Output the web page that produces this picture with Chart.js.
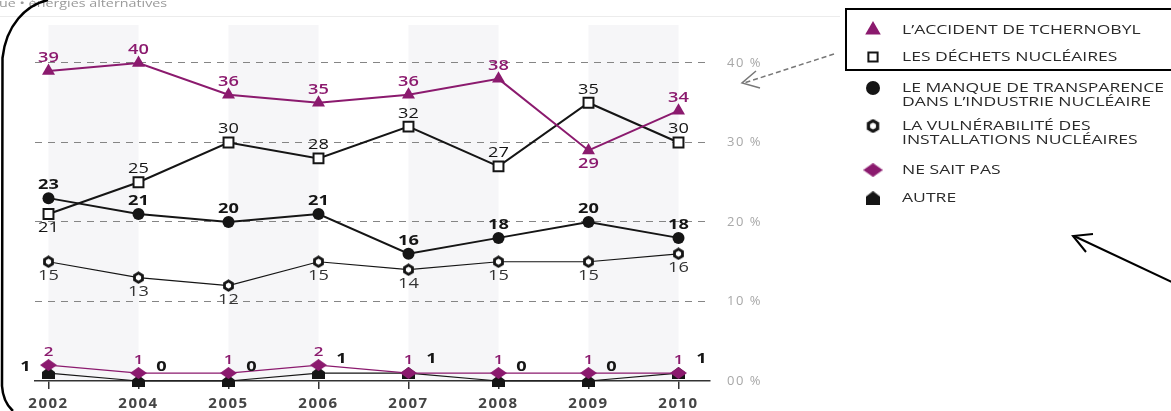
<!DOCTYPE html>
<html>
<head>
<meta charset="utf-8">
<script src="https://cdn.jsdelivr.net/npm/chart.js@4.4.0/dist/chart.umd.min.js"></script>
<style>
  html, body { margin: 0; padding: 0; background: #fff; }
  #wrap { position: relative; width: 1171px; height: 411px; overflow: hidden; }
</style>
</head>
<body>
<div id="wrap"><canvas id="chart" width="1171" height="411"></canvas></div>
<script>
const years = ['2002', '2004', '2005', '2006', '2007', '2008', '2009', '2010']
const tchernobyl = [39, 40, 36, 35, 36, 38, 29, 34]
const dechets = [21, 25, 30, 28, 32, 27, 35, 30]
const transparence = [23, 21, 20, 21, 16, 18, 20, 18]
const vulnerabilite = [15, 13, 12, 15, 14, 15, 15, 16]
const neSaitPas = [2, 1, 1, 2, 1, 1, 1, 1]
const autre = [1, 0, 0, 1, 1, 0, 0, 1]
const yTicks = [0, 10, 20, 30, 40]

const PURPLE = '#8b1a6e'
const INK = '#151515'
const FONT = '"Open Sans", "DejaVu Sans", sans-serif'
const STRETCH = 1.3   // the scan is wider than tall, text follows that

function shapeCanvas(w, h, draw) {
  const c = document.createElement('canvas')
  c.width = w
  c.height = h
  draw(c.getContext('2d'))
  return c
}

function wideText(ctx, text, x, y) {
  ctx.save()
  ctx.translate(x, y)
  ctx.scale(STRETCH, 1)
  ctx.fillText(text, 0, 0)
  ctx.restore()
}

// little marker images for the shapes Chart.js has no built-in style for
const houseMarker = shapeCanvas(13, 12, g => {
  g.fillStyle = INK
  g.beginPath()
  g.moveTo(6.5, 0); g.lineTo(13, 5); g.lineTo(13, 12); g.lineTo(0, 12); g.lineTo(0, 5)
  g.closePath()
  g.fill()
})
const hexMarker = shapeCanvas(13, 13, g => {
  g.strokeStyle = INK
  g.fillStyle = '#fff'
  g.lineWidth = 2.8
  g.beginPath()
  for (let k = 0; k < 6; k++) {
    const a = Math.PI / 6 + k * Math.PI / 3
    g.lineTo(6.5 + 4.6 * Math.cos(a), 6.5 + 4.6 * Math.sin(a))
  }
  g.closePath()
  g.fill()
  g.stroke()
})
const diamondMarker = shapeCanvas(17, 12, g => {
  g.fillStyle = PURPLE
  g.beginPath()
  g.moveTo(8.5, 0); g.lineTo(17, 6); g.lineTo(8.5, 12); g.lineTo(0, 6)
  g.closePath()
  g.fill()
})

const pts = arr => arr.map((v, i) => ({ x: i, y: v }))

// where each value label sits relative to its point
const place = {
  above: { dx: 0, dy: -13 },
  below: { dx: 0, dy: 14 },
  right: { dx: 23, dy: -14 },
  left: { dx: -23, dy: -6 }
}

const datasets = [
  {
    label: 'L’ACCIDENT DE TCHERNOBYL',
    data: pts(tchernobyl),
    borderColor: PURPLE, backgroundColor: PURPLE, borderWidth: 2,
    pointStyle: 'triangle', pointRadius: 7.5, pointBorderWidth: 0,
    valueLabels: { color: PURPLE, weight: '600', size: 14, where: ['above', 'above', 'above', 'above', 'above', 'above', 'below', 'above'] }
  },
  {
    label: 'LES DÉCHETS NUCLÉAIRES',
    data: pts(dechets),
    borderColor: INK, backgroundColor: '#fff', borderWidth: 2,
    pointStyle: 'rect', pointRadius: 7, pointBorderWidth: 2,
    valueLabels: { color: INK, weight: 'normal', size: 14, where: ['below', 'above', 'above', 'above', 'above', 'above', 'above', 'above'] }
  },
  {
    label: 'LE MANQUE DE TRANSPARENCE|DANS L’INDUSTRIE NUCLÉAIRE',
    data: pts(transparence),
    borderColor: INK, backgroundColor: INK, borderWidth: 2,
    pointStyle: 'circle', pointRadius: 6, pointBorderWidth: 0,
    valueLabels: { color: INK, weight: 'bold', size: 14, where: 'above' }
  },
  {
    label: 'LA VULNÉRABILITÉ DES|INSTALLATIONS NUCLÉAIRES',
    data: pts(vulnerabilite),
    borderColor: INK, backgroundColor: '#fff', borderWidth: 1.2,
    pointStyle: hexMarker, pointRadius: 6,
    valueLabels: { color: '#333', weight: 'normal', size: 14, where: 'below' }
  },
  {
    label: 'NE SAIT PAS',
    data: pts(neSaitPas),
    borderColor: PURPLE, backgroundColor: PURPLE, borderWidth: 1.2,
    pointStyle: diamondMarker, pointRadius: 7,
    valueLabels: { color: PURPLE, weight: '600', size: 13, where: 'above' }
  },
  {
    label: 'AUTRE',
    data: pts(autre),
    borderColor: INK, backgroundColor: INK, borderWidth: 1.2,
    pointStyle: houseMarker, pointRadius: 6,
    valueLabels: { color: INK, weight: 'bold', size: 14, where: ['left', 'right', 'right', 'right', 'right', 'right', 'right', 'right'] }
  }
]
datasets.forEach(d => { d.clip = false; d.tension = 0; d.fill = false })

const backdrop = {
  id: 'backdrop',
  beforeDraw(chart) {
    const { ctx, chartArea, scales } = chart
    ctx.save()
    ctx.fillStyle = '#fff'
    ctx.fillRect(0, 0, chart.width, chart.height)

    // header fragment of the scanned page
    ctx.fillStyle = '#9a9a9a'
    ctx.font = `11px ${FONT}`
    ctx.textBaseline = 'alphabetic'
    wideText(ctx, 'ue • énergies alternatives', -1, 7)
    ctx.strokeStyle = '#ececec'
    ctx.lineWidth = 1
    ctx.beginPath()
    ctx.moveTo(0, 16.5); ctx.lineTo(840, 16.5)
    ctx.stroke()

    // shaded year bands
    ctx.fillStyle = '#f6f6f8'
    for (let i = 0; i < years.length - 1; i += 2) {
      const x1 = scales.x.getPixelForValue(i)
      const x2 = scales.x.getPixelForValue(i + 1)
      ctx.fillRect(x1, 25, x2 - x1, chartArea.bottom - 25)
    }
    ctx.restore()
    // axis tick labels are drawn next; widen them a little like the scan
    ctx.letterSpacing = '1.5px'
  },
  beforeDatasetsDraw(chart) {
    chart.ctx.letterSpacing = '0px'
  }
}

const valueLabels = {
  id: 'valueLabels',
  afterDatasetsDraw(chart) {
    const ctx = chart.ctx
    ctx.save()
    ctx.textAlign = 'center'
    ctx.textBaseline = 'middle'
    chart.data.datasets.forEach((ds, di) => {
      const cfg = ds.valueLabels
      const meta = chart.getDatasetMeta(di)
      ctx.fillStyle = cfg.color
      ctx.font = `${cfg.weight} ${cfg.size}px ${FONT}`
      meta.data.forEach((pt, i) => {
        const where = Array.isArray(cfg.where) ? cfg.where[i] : cfg.where
        const off = place[where]
        wideText(ctx, String(ds.data[i].y), pt.x + off.dx, pt.y + off.dy)
      })
    })
    ctx.restore()
  }
}

function arrowHead(ctx, tip, a, b) {
  ctx.beginPath()
  ctx.moveTo(a[0], a[1]); ctx.lineTo(tip[0], tip[1]); ctx.lineTo(b[0], b[1])
  ctx.stroke()
}

const sideLegend = {
  id: 'sideLegend',
  afterDraw(chart) {
    const ctx = chart.ctx
    const rows = [30, 57, 88, 126, 170, 198]
    const mx = 873
    const tx = 902
    ctx.save()
    ctx.font = `13.5px ${FONT}`
    ctx.textBaseline = 'middle'
    ctx.textAlign = 'left'
    chart.data.datasets.forEach((ds, i) => {
      const y = rows[i]
      const style = ds.pointStyle
      if (style instanceof HTMLCanvasElement) {
        const w = style.width * 1.15, h = style.height * 1.15
        ctx.drawImage(style, mx - w / 2, y - h / 2, w, h)
      } else {
        ctx.fillStyle = ds.backgroundColor
        ctx.strokeStyle = ds.borderColor
        ctx.lineWidth = ds.pointBorderWidth
        const r = style === 'rect' ? 6.5 : style === 'circle' ? 7 : 9
        Chart.helpers.drawPoint(ctx, { pointStyle: style, radius: r, borderWidth: ds.pointBorderWidth, rotation: 0 }, mx, y)
      }
      ctx.fillStyle = '#2a2a2a'
      ds.label.split('|').forEach((line, k) => wideText(ctx, line, tx, y + k * 14))
    })

    // box round the first two entries
    ctx.strokeStyle = '#000'
    ctx.lineWidth = 2
    ctx.strokeRect(846, 9, 340, 61)

    // dashed pointer towards the 40 % label
    ctx.strokeStyle = '#777'
    ctx.lineWidth = 1.5
    ctx.setLineDash([5, 3])
    ctx.beginPath()
    ctx.moveTo(834, 54); ctx.lineTo(744, 83)
    ctx.stroke()
    ctx.setLineDash([])
    arrowHead(ctx, [742, 83], [756, 71], [760, 88])

    // solid pointer on the right
    ctx.strokeStyle = '#000'
    ctx.lineWidth = 2
    ctx.beginPath()
    ctx.moveTo(1172, 282); ctx.lineTo(1074, 236)
    ctx.stroke()
    arrowHead(ctx, [1073, 236], [1093, 234], [1086, 252])

    // hand-drawn outline on the left
    ctx.lineWidth = 2.5
    ctx.beginPath()
    ctx.moveTo(48, 0)
    ctx.bezierCurveTo(26, 5, 6, 25, 2.5, 58)
    ctx.lineTo(2, 386)
    ctx.quadraticCurveTo(3, 402, 13, 411)
    ctx.stroke()
    ctx.restore()
  }
}

new Chart(document.getElementById('chart').getContext('2d'), {
  type: 'line',
  data: { datasets: datasets },
  options: {
    responsive: false,
    animation: false,
    devicePixelRatio: 1,
    layout: { padding: { left: 35, top: 26, right: 0, bottom: 0 } },
    plugins: {
      legend: { display: false },
      tooltip: { enabled: false }
    },
    scales: {
      x: {
        type: 'linear',
        min: -0.15,
        max: 7.35,
        afterBuildTicks: s => { s.ticks = years.map((y, i) => ({ value: i })) },
        afterFit: s => { s.height = 30 },
        grid: { drawOnChartArea: false, drawTicks: true, tickLength: 8, color: '#333', lineWidth: 1.5 },
        border: { display: true, color: '#333', width: 1.5 },
        ticks: {
          padding: 6,
          autoSkip: false,
          maxRotation: 0,
          color: '#444',
          font: { family: FONT, size: 15, weight: 'bold' },
          callback: v => years[v]
        }
      },
      y: {
        position: 'right',
        min: 0,
        max: 44.65,
        afterBuildTicks: s => { s.ticks = yTicks.map(v => ({ value: v })) },
        afterFit: s => { s.width = 461 },
        grid: {
          drawTicks: false,
          lineWidth: 1,
          color: c => (c.tick && c.tick.value === 0) ? 'rgba(0,0,0,0)' : '#858585'
        },
        border: { display: false, dash: [7, 6] },
        ticks: {
          padding: 17,
          color: '#a8a8a8',
          font: { family: FONT, size: 13 },
          callback: v => v === 0 ? '00 %' : v + ' %'
        }
      }
    }
  },
  plugins: [backdrop, valueLabels, sideLegend]
})
</script>
</body>
</html>
